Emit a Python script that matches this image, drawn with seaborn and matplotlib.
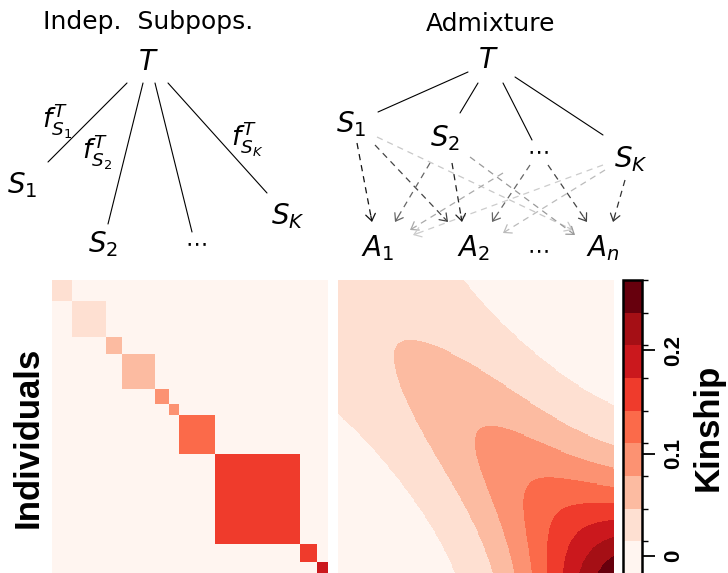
import numpy as np
import matplotlib
matplotlib.use("Agg")
import matplotlib.pyplot as plt
from matplotlib import colors, cm
import seaborn as sns

# ======================
# data
# ======================

# independent subpopulations: block sizes (individuals) and within-block kinship
subpop_sizes = [20, 34, 16, 33, 14, 10, 37, 85, 17, 11]
subpop_kinship = [0.018, 0.036, 0.055, 0.073, 0.091, 0.109, 0.127, 0.146, 0.164, 0.182]

# admixture on a 1D geography: subpop coordinates, subpop inbreeding, spread
n_admix = 276
admix_subpop_coord = [1, 2, 3, 4, 5, 6, 7, 8, 9, 10]
admix_subpop_inbr = [0.086, 0.171, 0.257, 0.343, 0.429, 0.514, 0.600, 0.686, 0.771, 0.857]
admix_sigma = 1.75
admix_coord_first = 0.5
admix_coord_last = 10.5

# colour scale
kinship_breaks = [-0.018, 0.014, 0.046, 0.078, 0.110, 0.141, 0.173, 0.205, 0.237, 0.269]
kinship_ticks = [0, 0.1, 0.2]
kinship_ticklabels = ["0", "0.1", "0.2"]

reds9 = ["#fff5f0", "#fee0d2", "#fcbba1", "#fc9272", "#fb6a4a",
         "#ef3b2c", "#cb181d", "#a50f15", "#67000d"]

# ======================
# matrices
# ======================

labels = np.repeat(np.arange(len(subpop_sizes)), subpop_sizes)
f_ind = np.array(subpop_kinship)[labels]
kin_indep = np.where(labels[:, None] == labels[None, :], f_ind[:, None], 0.0)

coord_ind = np.linspace(admix_coord_first, admix_coord_last, n_admix)
q = np.exp(-(coord_ind[:, None] - np.array(admix_subpop_coord)[None, :]) ** 2
           / (2 * admix_sigma ** 2))
q = q / q.sum(axis=1, keepdims=True)
kin_admix = q @ np.diag(admix_subpop_inbr) @ q.T

# ======================
# figure
# ======================

sns.set_theme(style="white")
plt.rcParams.update({
    "font.family": ["DejaVu Sans"],
    "mathtext.fontset": "dejavusans",
    "text.color": "black",
    "axes.labelcolor": "black",
    "xtick.color": "black",
    "ytick.color": "black",
})

W, H = 728, 573
fig = plt.figure(figsize=(W / 100, H / 100), dpi=100)

cmap = colors.ListedColormap(reds9)
norm = colors.BoundaryNorm(kinship_breaks, cmap.N)

def px_axes(x0, y0, x1, y1):
    return fig.add_axes([x0 / W, 1 - y1 / H, (x1 - x0) / W, (y1 - y0) / H])

ax_l = px_axes(52, 280, 328, 574)
ax_r = px_axes(338, 280, 614, 574)
cax = px_axes(623, 280, 642, 574)

for ax, mat in [(ax_l, kin_indep), (ax_r, kin_admix)]:
    sns.heatmap(mat, cmap=cmap, norm=norm, cbar=False,
                xticklabels=False, yticklabels=False, ax=ax, rasterized=True)

cb = fig.colorbar(cm.ScalarMappable(norm=norm, cmap=cmap), cax=cax, ticks=kinship_ticks)
cb.outline.set_linewidth(1.8)
cb.outline.set_edgecolor("black")
cax.tick_params(axis="y", length=9, width=1.3, pad=6, colors="black",
                right=True, left=False, direction="out")
cax.set_yticklabels(kinship_ticklabels, rotation=90, va="center",
                    fontweight="bold", fontsize=16, family="Liberation Sans")

fig.text(28 / W, 1 - 437 / H, "Individuals", rotation=90, ha="center", va="center",
         fontsize=25, fontweight="bold", family="Liberation Sans", color="black")
fig.text(708 / W, 1 - 427 / H, "Kinship", rotation=90, ha="center", va="center",
         fontsize=25, fontweight="bold", family="Liberation Sans", color="black")

# ======================
# tree diagrams (pixel coordinates)
# ======================

ax_t = px_axes(0, 0, W, 276)
ax_t.set_xlim(0, W)
ax_t.set_ylim(276, 0)
ax_t.axis("off")

def label(x, y, s, size=20):
    ax_t.text(x, y, s, ha="center", va="center", fontsize=size, color="black")

# left: independent subpopulations
label(148, 22, "Indep.  Subpops.", 18)
label(148, 62, r"$T$")
for (x0, y0, x1, y1) in [(127, 83, 48, 162), (143, 83, 108, 224),
                         (155, 83, 192, 232), (168, 83, 267, 193)]:
    ax_t.plot([x0, x1], [y0, y1], color="black", lw=0.8)
label(22, 185, r"$S_1$")
label(103, 244, r"$S_2$")
label(196, 243, r"$\cdots$", 16)
label(288, 216, r"$S_K$")
label(57, 121, r"$f_{S_1}^{T}$", 19)
label(97, 152, r"$f_{S_2}^{T}$", 19)
label(247, 139, r"$f_{S_K}^{T}$", 19)

# right: admixture
label(491, 24, "Admixture", 18)
label(488, 60, r"$T$")
for (x0, y0, x1, y1) in [(468, 72, 378, 112), (478, 83, 460, 113),
                         (503, 83, 532, 140), (515, 77, 603, 135)]:
    ax_t.plot([x0, x1], [y0, y1], color="black", lw=0.8)
label(351, 124, r"$S_1$")
label(445, 138, r"$S_2$")
label(538, 151, r"$\cdots$", 16)
label(631, 159, r"$S_K$")
label(378, 248, r"$A_1$")
label(473, 248, r"$A_2$")
label(538, 250, r"$\cdots$", 16)
label(603, 248, r"$A_n$")

arrows = [
    ((357, 143), (372, 222), "#111111"),
    ((375, 145), (448, 222), "#444444"),
    ((377, 137), (573, 230), "#c8c8c8"),
    ((430, 163), (395, 222), "#666666"),
    ((452, 163), (462, 222), "#222222"),
    ((470, 157), (575, 235), "#999999"),
    ((503, 173), (410, 230), "#aaaaaa"),
    ((530, 165), (492, 222), "#666666"),
    ((548, 165), (587, 222), "#444444"),
    ((603, 165), (413, 235), "#cccccc"),
    ((605, 170), (503, 233), "#bbbbbb"),
    ((625, 180), (613, 222), "#333333"),
]
for (x0, y0), (x1, y1), c in arrows:
    d = np.array([x1 - x0, y1 - y0], float)
    d /= np.hypot(*d)
    bx, by = x1 - 6 * d[0], y1 - 6 * d[1]
    ax_t.plot([x0, bx], [y0, by], color=c, lw=0.9, linestyle=(0, (5, 4)))
    ax_t.annotate("", xy=(x1, y1), xytext=(bx, by),
                  arrowprops=dict(arrowstyle="->,head_length=0.35,head_width=0.25",
                                  color=c, lw=0.9, shrinkA=0, shrinkB=0,
                                  mutation_scale=14))

fig.savefig("out.png", dpi=100)
